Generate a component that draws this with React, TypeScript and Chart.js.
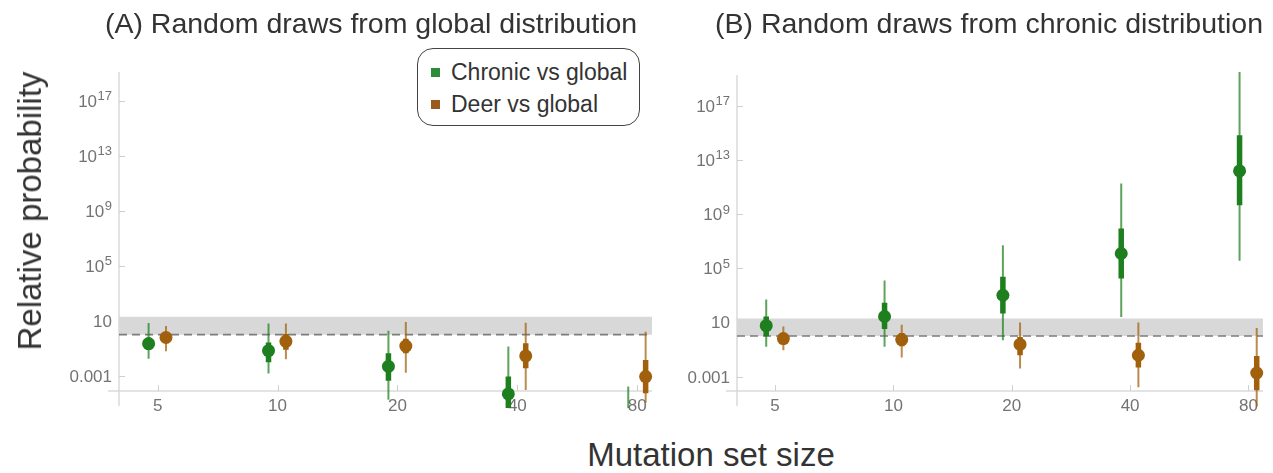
import React, { useEffect, useRef } from "react";
import { Chart, registerables } from "chart.js";

Chart.register(...registerables);

// ---------------- data (log10 of relative probability) ----------------
const mutationSetSizes = [5, 10, 20, 40, 80];
const xTickLabels = ["5", "10", "20", "40", "80"];
const yTickExponents = [-3, 1, 5, 9, 13, 17];
const seriesLabels = ["Chronic vs global", "Deer vs global"];
const panelTitles = [
  "(A) Random draws from global distribution",
  "(B) Random draws from chronic distribution",
];

// Panel A: random draws from global distribution
const aChronicMid = [-0.66, -1.17, -2.31, -4.31, -7.5];
const aChronicInnerHi = [-0.2, -0.57, -1.35, -3.05, -5.6];
const aChronicInnerLo = [-1.1, -2.0, -3.35, -5.6, -9.5];
const aChronicOuterHi = [0.84, 0.81, 0.29, -0.87, -3.78];
const aChronicOuterLo = [-1.75, -2.83, -4.73, -6.5, -11.0];

const aDeerMid = [-0.21, -0.49, -0.83, -1.55, -3.05];
const aDeerInnerHi = [0.1, 0.05, -0.3, -0.62, -1.84];
const aDeerInnerLo = [-0.55, -1.1, -1.35, -2.44, -4.26];
const aDeerOuterHi = [0.62, 0.81, 0.91, 0.86, 0.21];
const aDeerOuterLo = [-1.2, -1.79, -2.78, -4.02, -4.96];

// Panel B: random draws from chronic distribution
const bChronicMid = [0.76, 1.44, 3.01, 6.09, 12.19];
const bChronicInnerHi = [1.44, 2.45, 4.37, 7.94, 14.82];
const bChronicInnerLo = [-0.02, 0.52, 1.66, 4.25, 9.66];
const bChronicOuterHi = [2.7, 4.1, 6.7, 11.26, 19.5];
const bChronicOuterLo = [-0.79, -0.79, -0.31, 1.41, 5.55];

const bDeerMid = [-0.19, -0.26, -0.62, -1.42, -2.73];
const bDeerInnerHi = [0.2, 0.22, -0.07, -0.5, -1.47];
const bDeerInnerLo = [-0.6, -0.75, -1.42, -2.32, -4.0];
const bDeerOuterHi = [0.71, 0.83, 1.0, 1.0, 0.59];
const bDeerOuterLo = [-1.06, -1.59, -2.39, -3.78, -5.2];

// reference band and dashed reference line
const bandLow = 1;
const bandHigh = 20;
const referenceLine = 1;

// ---------------- styling ----------------
const FONT = '"Liberation Sans", Arial, Helvetica, sans-serif';
const GREEN = "#1e7f1e";
const GREEN_THIN = "rgba(30,127,30,0.72)";
const BROWN = "#a0600c";
const BROWN_THIN = "rgba(160,96,12,0.72)";
const TICK_COLOR = "#737373";
const X_MIN = 4;
const X_MAX = Math.pow(2, 6.445);
const DODGE_CHRONIC = -0.075;
const DODGE_DEER = 0.07;

Chart.defaults.font.family = FONT;

function rangeData(lo: number[], hi: number[], dodge: number) {
  const out: any[] = [];
  mutationSetSizes.forEach((s, i) => {
    const x = s * Math.pow(2, dodge);
    out.push({ x, y: Math.pow(10, hi[i]) }, { x, y: Math.pow(10, lo[i]) }, { x, y: null });
  });
  return out;
}

function pointData(mid: number[], dodge: number) {
  return mutationSetSizes.map((s, i) => ({ x: s * Math.pow(2, dodge), y: Math.pow(10, mid[i]) }));
}

const CLIP = { left: 10, top: 5, right: 10, bottom: 17 };

function seriesDatasets(
  label: string,
  mid: number[], inLo: number[], inHi: number[], outLo: number[], outHi: number[],
  dodge: number, color: string, thin: string
) {
  return [
    {
      label: label + " outer",
      data: rangeData(outLo, outHi, dodge),
      borderColor: thin,
      borderWidth: 2,
      pointRadius: 0,
      spanGaps: false,
      borderCapStyle: "butt",
      clip: CLIP,
      order: 5,
    },
    {
      label: label + " inner",
      data: rangeData(inLo, inHi, dodge),
      borderColor: color,
      borderWidth: 5.5,
      pointRadius: 0,
      spanGaps: false,
      borderCapStyle: "butt",
      clip: CLIP,
      order: 4,
    },
    {
      label,
      data: pointData(mid, dodge),
      showLine: false,
      pointRadius: 6.5,
      pointBackgroundColor: color,
      pointBorderWidth: 0,
      borderColor: color,
      clip: CLIP,
      order: 1,
    },
  ];
}

const axesPlugin = {
  id: "frameAxes",
  beforeDatasetsDraw(chart: any) {
    const { ctx, chartArea: a, scales } = chart;
    ctx.save();
    ctx.strokeStyle = "#dadada";
    ctx.lineWidth = 1.5;
    ctx.beginPath();
    ctx.moveTo(a.left - 11, a.bottom);
    ctx.lineTo(a.right, a.bottom);
    ctx.moveTo(a.left, a.top);
    ctx.lineTo(a.left, a.bottom + 15);
    ctx.stroke();
    ctx.strokeStyle = "#cfcfcf";
    ctx.lineWidth = 1;
    ctx.beginPath();
    scales.x.ticks.forEach((t: any) => {
      const px = Math.round(scales.x.getPixelForValue(t.value)) + 0.5;
      ctx.moveTo(px, a.bottom);
      ctx.lineTo(px, a.bottom - 6);
    });
    scales.y.ticks.forEach((t: any) => {
      const py = Math.round(scales.y.getPixelForValue(t.value)) + 0.5;
      ctx.moveTo(a.left, py);
      ctx.lineTo(a.left + 6, py);
    });
    ctx.stroke();
    ctx.restore();
  },
  // y tick labels with real superscript exponents
  afterDraw(chart: any) {
    const { ctx, chartArea: a, scales } = chart;
    const right = a.left - 7;
    ctx.save();
    ctx.fillStyle = TICK_COLOR;
    ctx.textBaseline = "alphabetic";
    scales.y.ticks.forEach((t: any) => {
      const py = scales.y.getPixelForValue(t.value);
      const e = Math.round(Math.log10(t.value));
      const base = py + 6;
      if (e === -3 || e === 1) {
        ctx.font = "17px " + FONT;
        ctx.textAlign = "right";
        ctx.fillText(e === -3 ? "0.001" : "10", right, base);
      } else {
        const exp = String(e);
        ctx.font = "13px " + FONT;
        const w = ctx.measureText(exp).width;
        ctx.textAlign = "left";
        ctx.fillText(exp, right - w, base - 6.5);
        ctx.font = "17px " + FONT;
        ctx.textAlign = "right";
        ctx.fillText("10", right - w - 0.5, base);
      }
    });
    ctx.restore();
  },
};

function makeConfig(
  chronic: number[][], deer: number[][],
  yMinExp: number, yMaxExp: number, yWidth: number, padTop: number, padRight: number
): any {
  const datasets: any[] = [
    {
      label: "band",
      data: [{ x: X_MIN, y: bandHigh }, { x: X_MAX, y: bandHigh }],
      fill: { value: bandLow },
      backgroundColor: "#d8d8d8",
      borderWidth: 0,
      pointRadius: 0,
      order: 20,
    },
    {
      label: "reference",
      data: [{ x: X_MIN, y: referenceLine }, { x: X_MAX, y: referenceLine }],
      borderColor: "#7c7c7c",
      borderWidth: 1.6,
      borderDash: [8, 5],
      pointRadius: 0,
      order: 15,
    },
    ...seriesDatasets(seriesLabels[0], chronic[0], chronic[1], chronic[2], chronic[3], chronic[4], DODGE_CHRONIC, GREEN, GREEN_THIN),
    ...seriesDatasets(seriesLabels[1], deer[0], deer[1], deer[2], deer[3], deer[4], DODGE_DEER, BROWN, BROWN_THIN),
  ];
  return {
    type: "line",
    data: { datasets },
    options: {
      animation: false,
      responsive: false,
      maintainAspectRatio: false,
      layout: { padding: { top: padTop, right: padRight, left: 0, bottom: 0 } },
      plugins: {
        legend: { display: false },
        tooltip: { enabled: false },
        title: { display: false },
      },
      events: [],
      scales: {
        x: {
          type: "logarithmic",
          min: X_MIN,
          max: X_MAX,
          bounds: "data",
          afterBuildTicks: (s: any) => {
            s.ticks = mutationSetSizes.map((v) => ({ value: v }));
          },
          afterFit: (s: any) => {
            s.height = 39;
          },
          grid: { display: false, drawTicks: false },
          border: { display: false },
          ticks: {
            autoSkip: false,
            maxRotation: 0,
            padding: 5,
            color: TICK_COLOR,
            font: { size: 17, family: FONT },
            callback: (_v: any, i: number) => xTickLabels[i],
          },
        },
        y: {
          type: "logarithmic",
          min: Math.pow(10, yMinExp),
          max: Math.pow(10, yMaxExp),
          bounds: "data",
          afterBuildTicks: (s: any) => {
            s.ticks = yTickExponents.map((e) => ({ value: Math.pow(10, e) }));
          },
          afterFit: (s: any) => {
            s.width = yWidth;
          },
          grid: { display: false, drawTicks: false },
          border: { display: false },
          ticks: { display: false },
        },
      },
    },
    plugins: [axesPlugin],
  };
}

export default function App() {
  const leftRef = useRef<HTMLCanvasElement | null>(null);
  const rightRef = useRef<HTMLCanvasElement | null>(null);

  useEffect(() => {
    const left = new Chart(
      leftRef.current as HTMLCanvasElement,
      makeConfig(
        [aChronicMid, aChronicInnerLo, aChronicInnerHi, aChronicOuterLo, aChronicOuterHi],
        [aDeerMid, aDeerInnerLo, aDeerInnerHi, aDeerOuterLo, aDeerOuterHi],
        -4.1, 19.1, 119, 72, 13
      )
    );
    const right = new Chart(
      rightRef.current as HTMLCanvasElement,
      makeConfig(
        [bChronicMid, bChronicInnerLo, bChronicInnerHi, bChronicOuterLo, bChronicOuterHi],
        [bDeerMid, bDeerInnerLo, bDeerInnerHi, bDeerOuterLo, bDeerOuterHi],
        -4.06, 19.27, 72, 75, 10
      )
    );
    return () => {
      left.destroy();
      right.destroy();
    };
  }, []);

  const titleStyle = (cx: number): React.CSSProperties => ({
    position: "absolute",
    left: cx - 320,
    width: 640,
    top: 7,
    textAlign: "center",
    fontSize: 28.5,
    lineHeight: "32px",
    color: "#333",
    whiteSpace: "nowrap",
  });

  const legendRow = (top: number, color: string, text: string) => (
    <div
      style={{
        position: "absolute",
        left: 13,
        top,
        height: 28,
        display: "flex",
        alignItems: "center",
        whiteSpace: "nowrap",
      }}
    >
      <span style={{ display: "inline-block", width: 9, height: 9, background: color, marginRight: 11 }} />
      <span style={{ fontSize: 23, lineHeight: "28px", color: "#333" }}>{text}</span>
    </div>
  );

  return (
    <div
      style={{
        position: "absolute",
        left: 0,
        top: 0,
        width: 1273,
        height: 473,
        background: "#fff",
        fontFamily: FONT,
        overflow: "hidden",
      }}
    >
      <canvas ref={leftRef} width={665} height={430} style={{ position: "absolute", left: 0, top: 0 }} />
      <canvas ref={rightRef} width={608} height={430} style={{ position: "absolute", left: 665, top: 0 }} />
      <div style={titleStyle(371)}>{panelTitles[0]}</div>
      <div style={titleStyle(989)}>{panelTitles[1]}</div>
      <div style={{ position: "absolute", left: 30, top: 211, width: 0, height: 0 }}>
        <span
          style={{
            position: "absolute",
            left: 0,
            top: 0,
            transform: "translate(-50%, -50%) rotate(-90deg)",
            fontSize: 33,
            lineHeight: "36px",
            color: "#333",
            whiteSpace: "nowrap",
          }}
        >
          Relative probability
        </span>
      </div>
      <div
        style={{
          position: "absolute",
          left: 411,
          width: 600,
          top: 437,
          textAlign: "center",
          fontSize: 33,
          lineHeight: "36px",
          color: "#333",
          whiteSpace: "nowrap",
        }}
      >
        Mutation set size
      </div>
      <div
        style={{
          position: "absolute",
          left: 417,
          top: 48,
          width: 223,
          height: 78,
          boxSizing: "border-box",
          border: "1.5px solid #444",
          borderRadius: 16,
          background: "#fff",
        }}
      >
        {legendRow(9, "#2e8b3a", seriesLabels[0])}
        {legendRow(41, "#9a5a1e", seriesLabels[1])}
      </div>
    </div>
  );
}
